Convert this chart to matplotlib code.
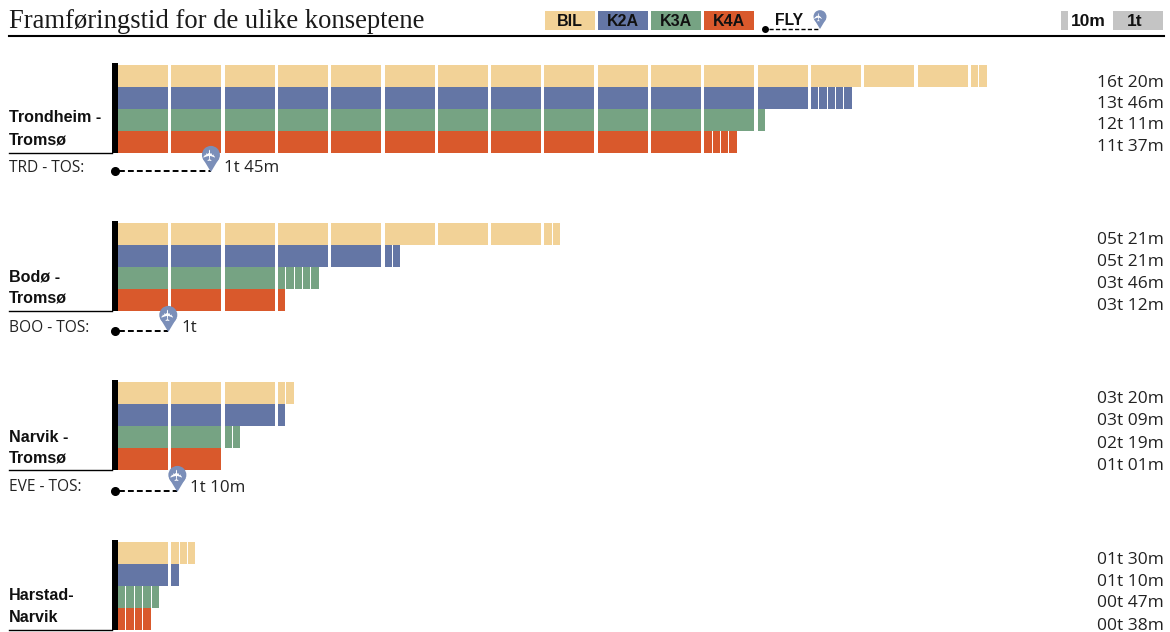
import matplotlib
matplotlib.use('Agg')
import matplotlib.pyplot as plt
from matplotlib.patches import Circle, Polygon, Rectangle

title = 'Framføringstid for de ulike konseptene'
concepts = ['BIL', 'K2A', 'K3A', 'K4A']
colors = ['#f2d297', '#6476a5', '#76a383', '#d9592c']

routes = [['Trondheim -', 'Tromsø'], ['Bodø -', 'Tromsø'], ['Narvik -', 'Tromsø'], ['Harstad-', 'Narvik']]

# whole hours and 10 minute ticks as they are drawn, per concept
hours_trd = [16, 13, 12, 11]
ticks_trd = [2, 5, 1, 4]
hours_boo = [8, 5, 3, 3]
ticks_boo = [2, 2, 5, 1]
hours_eve = [3, 3, 2, 2]
ticks_eve = [2, 1, 2, 0]
hours_hrs = [1, 1, 0, 0]
ticks_hrs = [3, 1, 5, 4]

labels_trd = ['16t 20m', '13t 46m', '12t 11m', '11t 37m']
labels_boo = ['05t 21m', '05t 21m', '03t 46m', '03t 12m']
labels_eve = ['03t 20m', '03t 09m', '02t 19m', '01t 01m']
labels_hrs = ['01t 30m', '01t 10m', '00t 47m', '00t 38m']

flight_codes = ['TRD - TOS:', 'BOO - TOS:', 'EVE - TOS:']
flight_hours = [1.8, 1.0, 1.17]
flight_labels = ['1t 45m', '1t', '1t 10m']

W, H = 1170, 632
HOUR = 53.3  # px for one hour
X0 = 118
ROW = 22
tops = [65, 223, 382, 542]
label_ys = [[83, 104, 125, 147], [240, 262, 284, 306], [399, 421, 444, 466], [560, 582, 603, 626]]
route_ys = [[118, 140], [277, 298], [437, 458], [596, 618]]
flight_ys = [171, 331, 491]
code_ys = [168, 328, 487]

plt.rcParams['font.family'] = ['Open Sans', 'DejaVu Sans']
BOLD = 'Liberation Sans'

fig = plt.figure(figsize=(W / 100, H / 100), dpi=100)

# bars: x in hours, y in picture pixels
ax_b = fig.add_axes([0, 0, 1, 1])
ax_b.set_xlim(-X0 / HOUR, (W - X0) / HOUR)
ax_b.set_ylim(H, 0)
ax_b.axis('off')

# everything else in picture pixels
ax = fig.add_axes([0, 0, 1, 1])
ax.set_xlim(0, W)
ax.set_ylim(H, 0)
ax.axis('off')
ax.patch.set_alpha(0)

all_hours = [hours_trd, hours_boo, hours_eve, hours_hrs]
all_ticks = [ticks_trd, ticks_boo, ticks_eve, ticks_hrs]
all_labels = [labels_trd, labels_boo, labels_eve, labels_hrs]


def draw_pin(x, tip, color='#7b8fb9', r=9, plane=True):
    cy = tip - r * 1.9
    ax.add_patch(Polygon([(x - r * 0.93, cy + r * 0.35), (x + r * 0.93, cy + r * 0.35), (x, tip)], fc=color, ec='none', zorder=5))
    ax.add_patch(Circle((x, cy), r, fc=color, ec='none', zorder=5))
    if plane:
        ax.text(x, cy, '✈', color='white', fontsize=r * 1.25, rotation=90, ha='center', va='center',
                family='DejaVu Sans', zorder=6)


for g in range(4):
    for i in range(4):
        y = tops[g] + i * ROW + ROW / 2
        starts = [h for h in range(all_hours[g][i])]
        ax_b.barh([y] * len(starts), [50 / HOUR] * len(starts), left=starts, height=ROW, color=colors[i], linewidth=0)
        tick_start = all_hours[g][i]
        tick_w = 1 / 6.35
        for t in range(all_ticks[g][i]):
            ax_b.barh(y, tick_w - 1.0 / HOUR, left=tick_start + t * tick_w, height=ROW, color=colors[i], linewidth=0)
        ax.text(1164, label_ys[g][i], all_labels[g][i], ha='right', va='center', fontsize=12.5, color='#222222')

    bottom = tops[g] + 4 * ROW
    ax.add_patch(Rectangle((112, tops[g] - 2), 6, 4 * ROW + 2, fc='black', ec='none', zorder=4))
    ax.plot([9, 112], [bottom - 0.5, bottom - 0.5], color='black', lw=1)
    for line, yy in zip(routes[g], route_ys[g]):
        ax.text(9, yy, line, family=BOLD, fontweight='bold', fontsize=11.6, va='center', color='#111111')

for i in range(3):
    y = flight_ys[i]
    end = 115 + flight_hours[i] * HOUR
    ax.plot([115], [y], 'o', color='black', ms=5.5)
    ax.plot([119, end], [y, y], color='black', lw=1.4, dashes=(3, 1.6))
    draw_pin(end, y + 1)
    ax.text(end + 13, y - 3.5, flight_labels[i], fontsize=12.2, va='center', color='#222222')
    ax.text(9, code_ys[i], flight_codes[i], fontsize=11.2, va='center', color='#222222')

# header
ax.text(9, 21, title, family='Liberation Serif', fontsize=19.2, va='center', color='#1a1a1a')
ax.plot([9, 1164], [35.5, 35.5], color='black', lw=1.5)

legend_x = [545, 598, 651, 704]
for x, name, c in zip(legend_x, concepts, colors):
    ax.add_patch(Rectangle((x, 11), 50, 19, fc=c, ec='none'))
    ax.text(x + 25, 21, name, family=BOLD, fontweight='bold', fontsize=11.5, ha='center', va='center', color='#111111')
ax.plot([765], [29], 'o', color='black', ms=4)
ax.plot([769, 820], [29, 29], color='black', lw=1, dashes=(3, 1.6))
ax.text(789, 20.5, 'FLY', family=BOLD, fontweight='bold', fontsize=11.3, ha='center', va='center', color='#111111')
draw_pin(820, 29, r=6.5)

ax.add_patch(Rectangle((1061, 11), 7, 19, fc='#c4c4c4', ec='none'))
ax.text(1071, 21, '10m', family=BOLD, fontweight='bold', fontsize=12.5, va='center', color='#111111')
ax.add_patch(Rectangle((1113, 11), 50, 19, fc='#c4c4c4', ec='none'))
ax.text(1135, 21, '1t', family=BOLD, fontweight='bold', fontsize=12.5, ha='center', va='center', color='#111111')

plt.savefig('out.png', dpi=100)
plt.close()
